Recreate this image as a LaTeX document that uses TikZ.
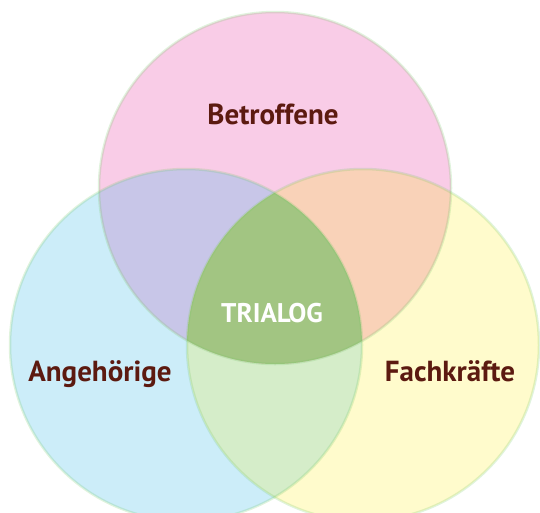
\documentclass[tikz,border=0pt]{standalone}
\usepackage{fontspec}
\setsansfont{PT Sans}
\definecolor{pinkfill}{RGB}{249,204,231}
\definecolor{bluefill}{RGB}{204,237,249}
\definecolor{yellowfill}{RGB}{255,251,204}
\definecolor{purplefill}{RGB}{200,198,232}
\definecolor{orangefill}{RGB}{249,210,184}
\definecolor{palegreen}{RGB}{213,237,201}
\definecolor{centergreen}{RGB}{162,197,130}
\definecolor{ringgreen}{RGB}{115,200,100}
\definecolor{labelbrown}{RGB}{92,26,16}
\tikzset{
  ring/.style = {draw = ringgreen, draw opacity = 0.22, line width = 2.5pt},
  circtext/.style = {font = \sffamily\bfseries\fontsize{29}{29}\selectfont, text = labelbrown, anchor = base, inner sep = 0pt}
}

\begin{document}
\begin{tikzpicture}[x=1pt, y=-1pt]
    \useasboundingbox (0,0) rectangle (540,512);
    \clip (0,0) rectangle (540,512);
    \def\rad{176pt}
    \coordinate (top) at (275,188);
    \coordinate (left) at (186,345);
    \coordinate (right) at (363,345);
    % circles
    \fill [bluefill] (left) circle (\rad);
    \fill [yellowfill] (right) circle (\rad);
    \fill [pinkfill] (top) circle (\rad);
    % overlaps
    \begin{scope}
        \clip (left) circle (\rad);
        \fill [palegreen] (right) circle (\rad);
    \end{scope}
    \begin{scope}
        \clip (top) circle (\rad);
        \fill [purplefill] (left) circle (\rad);
        \fill [orangefill] (right) circle (\rad);
        \clip (left) circle (\rad);
        \fill [centergreen] (right) circle (\rad);
    \end{scope}
    \draw [ring] (left) circle (\rad);
    \draw [ring] (right) circle (\rad);
    \draw [ring] (top) circle (\rad);
    % labels
    \node [circtext] (betroffene) at (273,124) {Betroffene};
    \node [circtext] (angehoerige) at (100,381) {Angehörige};
    \node [circtext] (fachkraefte) at (450,381) {Fachkräfte};
    \node [circtext, text=white, font=\sffamily\bfseries\fontsize{27}{27}\selectfont] (trialog) at (272,322) {TRIALOG};
\end{tikzpicture}
\end{document}
